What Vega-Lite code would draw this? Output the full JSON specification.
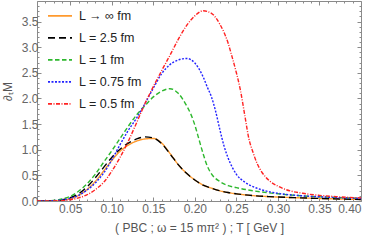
{
  "$schema": "https://vega.github.io/schema/vega-lite/v6.json",
  "width": 324,
  "height": 200,
  "autosize": {"type": "none"},
  "padding": {"left": 37, "top": 1, "right": 13, "bottom": 39},
  "config": {
    "font": "Liberation Sans",
    "view": {"stroke": "#8a8a8a", "strokeWidth": 1},
    "axis": {"domain": false, "grid": false, "tickColor": "#8a8a8a", "labelColor": "#666666", "labelFontSize": 12, "titleColor": "#555555", "titleFontSize": 12, "titleFontWeight": "normal"}
  },
  "data": {
    "values": [
      {"L": "L → ∞ fm", "T": 0.01, "M": 0},
      {"L": "L → ∞ fm", "T": 0.02, "M": 0.001},
      {"L": "L → ∞ fm", "T": 0.03, "M": 0.004},
      {"L": "L → ∞ fm", "T": 0.04, "M": 0.015},
      {"L": "L → ∞ fm", "T": 0.05, "M": 0.045},
      {"L": "L → ∞ fm", "T": 0.06, "M": 0.11},
      {"L": "L → ∞ fm", "T": 0.07, "M": 0.22},
      {"L": "L → ∞ fm", "T": 0.08, "M": 0.38},
      {"L": "L → ∞ fm", "T": 0.09, "M": 0.58},
      {"L": "L → ∞ fm", "T": 0.10, "M": 0.79},
      {"L": "L → ∞ fm", "T": 0.11, "M": 0.97},
      {"L": "L → ∞ fm", "T": 0.12, "M": 1.09},
      {"L": "L → ∞ fm", "T": 0.13, "M": 1.17},
      {"L": "L → ∞ fm", "T": 0.14, "M": 1.21},
      {"L": "L → ∞ fm", "T": 0.15, "M": 1.22},
      {"L": "L → ∞ fm", "T": 0.16, "M": 1.13},
      {"L": "L → ∞ fm", "T": 0.17, "M": 0.93},
      {"L": "L → ∞ fm", "T": 0.18, "M": 0.71},
      {"L": "L → ∞ fm", "T": 0.19, "M": 0.54},
      {"L": "L → ∞ fm", "T": 0.20, "M": 0.41},
      {"L": "L → ∞ fm", "T": 0.21, "M": 0.31},
      {"L": "L → ∞ fm", "T": 0.22, "M": 0.25},
      {"L": "L → ∞ fm", "T": 0.23, "M": 0.20},
      {"L": "L → ∞ fm", "T": 0.24, "M": 0.165},
      {"L": "L → ∞ fm", "T": 0.25, "M": 0.14},
      {"L": "L → ∞ fm", "T": 0.27, "M": 0.105},
      {"L": "L → ∞ fm", "T": 0.29, "M": 0.085},
      {"L": "L → ∞ fm", "T": 0.32, "M": 0.065},
      {"L": "L → ∞ fm", "T": 0.35, "M": 0.05},
      {"L": "L → ∞ fm", "T": 0.40, "M": 0.03},

      {"L": "L = 2.5 fm", "T": 0.01, "M": 0},
      {"L": "L = 2.5 fm", "T": 0.02, "M": 0.002},
      {"L": "L = 2.5 fm", "T": 0.03, "M": 0.008},
      {"L": "L = 2.5 fm", "T": 0.04, "M": 0.025},
      {"L": "L = 2.5 fm", "T": 0.05, "M": 0.065},
      {"L": "L = 2.5 fm", "T": 0.06, "M": 0.14},
      {"L": "L = 2.5 fm", "T": 0.07, "M": 0.27},
      {"L": "L = 2.5 fm", "T": 0.08, "M": 0.45},
      {"L": "L = 2.5 fm", "T": 0.09, "M": 0.65},
      {"L": "L = 2.5 fm", "T": 0.10, "M": 0.85},
      {"L": "L = 2.5 fm", "T": 0.11, "M": 1.01},
      {"L": "L = 2.5 fm", "T": 0.12, "M": 1.13},
      {"L": "L = 2.5 fm", "T": 0.13, "M": 1.21},
      {"L": "L = 2.5 fm", "T": 0.14, "M": 1.25},
      {"L": "L = 2.5 fm", "T": 0.15, "M": 1.23},
      {"L": "L = 2.5 fm", "T": 0.16, "M": 1.12},
      {"L": "L = 2.5 fm", "T": 0.17, "M": 0.92},
      {"L": "L = 2.5 fm", "T": 0.18, "M": 0.71},
      {"L": "L = 2.5 fm", "T": 0.19, "M": 0.54},
      {"L": "L = 2.5 fm", "T": 0.20, "M": 0.41},
      {"L": "L = 2.5 fm", "T": 0.21, "M": 0.31},
      {"L": "L = 2.5 fm", "T": 0.22, "M": 0.25},
      {"L": "L = 2.5 fm", "T": 0.23, "M": 0.20},
      {"L": "L = 2.5 fm", "T": 0.24, "M": 0.165},
      {"L": "L = 2.5 fm", "T": 0.25, "M": 0.14},
      {"L": "L = 2.5 fm", "T": 0.27, "M": 0.105},
      {"L": "L = 2.5 fm", "T": 0.29, "M": 0.085},
      {"L": "L = 2.5 fm", "T": 0.32, "M": 0.065},
      {"L": "L = 2.5 fm", "T": 0.35, "M": 0.05},
      {"L": "L = 2.5 fm", "T": 0.40, "M": 0.03},

      {"L": "L = 1 fm", "T": 0.01, "M": 0},
      {"L": "L = 1 fm", "T": 0.02, "M": 0.002},
      {"L": "L = 1 fm", "T": 0.03, "M": 0.01},
      {"L": "L = 1 fm", "T": 0.04, "M": 0.04},
      {"L": "L = 1 fm", "T": 0.05, "M": 0.09},
      {"L": "L = 1 fm", "T": 0.06, "M": 0.19},
      {"L": "L = 1 fm", "T": 0.07, "M": 0.33},
      {"L": "L = 1 fm", "T": 0.08, "M": 0.52},
      {"L": "L = 1 fm", "T": 0.09, "M": 0.75},
      {"L": "L = 1 fm", "T": 0.10, "M": 0.98},
      {"L": "L = 1 fm", "T": 0.11, "M": 1.22},
      {"L": "L = 1 fm", "T": 0.12, "M": 1.46},
      {"L": "L = 1 fm", "T": 0.13, "M": 1.68},
      {"L": "L = 1 fm", "T": 0.14, "M": 1.86},
      {"L": "L = 1 fm", "T": 0.15, "M": 2.03},
      {"L": "L = 1 fm", "T": 0.16, "M": 2.14},
      {"L": "L = 1 fm", "T": 0.17, "M": 2.19},
      {"L": "L = 1 fm", "T": 0.18, "M": 2.10},
      {"L": "L = 1 fm", "T": 0.19, "M": 1.86},
      {"L": "L = 1 fm", "T": 0.195, "M": 1.70},
      {"L": "L = 1 fm", "T": 0.20, "M": 1.48},
      {"L": "L = 1 fm", "T": 0.205, "M": 1.20},
      {"L": "L = 1 fm", "T": 0.21, "M": 0.92},
      {"L": "L = 1 fm", "T": 0.215, "M": 0.68},
      {"L": "L = 1 fm", "T": 0.22, "M": 0.53},
      {"L": "L = 1 fm", "T": 0.23, "M": 0.38},
      {"L": "L = 1 fm", "T": 0.24, "M": 0.30},
      {"L": "L = 1 fm", "T": 0.25, "M": 0.26},
      {"L": "L = 1 fm", "T": 0.27, "M": 0.20},
      {"L": "L = 1 fm", "T": 0.30, "M": 0.14},
      {"L": "L = 1 fm", "T": 0.33, "M": 0.10},
      {"L": "L = 1 fm", "T": 0.36, "M": 0.075},
      {"L": "L = 1 fm", "T": 0.40, "M": 0.05},

      {"L": "L = 0.75 fm", "T": 0.01, "M": 0},
      {"L": "L = 0.75 fm", "T": 0.02, "M": 0.001},
      {"L": "L = 0.75 fm", "T": 0.03, "M": 0.005},
      {"L": "L = 0.75 fm", "T": 0.04, "M": 0.02},
      {"L": "L = 0.75 fm", "T": 0.05, "M": 0.05},
      {"L": "L = 0.75 fm", "T": 0.06, "M": 0.11},
      {"L": "L = 0.75 fm", "T": 0.07, "M": 0.21},
      {"L": "L = 0.75 fm", "T": 0.08, "M": 0.35},
      {"L": "L = 0.75 fm", "T": 0.09, "M": 0.54},
      {"L": "L = 0.75 fm", "T": 0.10, "M": 0.80},
      {"L": "L = 0.75 fm", "T": 0.11, "M": 1.10},
      {"L": "L = 0.75 fm", "T": 0.12, "M": 1.38},
      {"L": "L = 0.75 fm", "T": 0.13, "M": 1.62},
      {"L": "L = 0.75 fm", "T": 0.14, "M": 1.90},
      {"L": "L = 0.75 fm", "T": 0.15, "M": 2.20},
      {"L": "L = 0.75 fm", "T": 0.16, "M": 2.48},
      {"L": "L = 0.75 fm", "T": 0.17, "M": 2.66},
      {"L": "L = 0.75 fm", "T": 0.18, "M": 2.75},
      {"L": "L = 0.75 fm", "T": 0.19, "M": 2.78},
      {"L": "L = 0.75 fm", "T": 0.20, "M": 2.69},
      {"L": "L = 0.75 fm", "T": 0.21, "M": 2.42},
      {"L": "L = 0.75 fm", "T": 0.215, "M": 2.22},
      {"L": "L = 0.75 fm", "T": 0.22, "M": 2.03},
      {"L": "L = 0.75 fm", "T": 0.225, "M": 1.75},
      {"L": "L = 0.75 fm", "T": 0.23, "M": 1.40},
      {"L": "L = 0.75 fm", "T": 0.235, "M": 1.08},
      {"L": "L = 0.75 fm", "T": 0.24, "M": 0.84},
      {"L": "L = 0.75 fm", "T": 0.245, "M": 0.66},
      {"L": "L = 0.75 fm", "T": 0.25, "M": 0.52},
      {"L": "L = 0.75 fm", "T": 0.26, "M": 0.37},
      {"L": "L = 0.75 fm", "T": 0.27, "M": 0.28},
      {"L": "L = 0.75 fm", "T": 0.28, "M": 0.22},
      {"L": "L = 0.75 fm", "T": 0.30, "M": 0.15},
      {"L": "L = 0.75 fm", "T": 0.33, "M": 0.10},
      {"L": "L = 0.75 fm", "T": 0.36, "M": 0.075},
      {"L": "L = 0.75 fm", "T": 0.40, "M": 0.05},

      {"L": "L = 0.5 fm", "T": 0.01, "M": 0},
      {"L": "L = 0.5 fm", "T": 0.02, "M": 0.0},
      {"L": "L = 0.5 fm", "T": 0.03, "M": 0.002},
      {"L": "L = 0.5 fm", "T": 0.04, "M": 0.008},
      {"L": "L = 0.5 fm", "T": 0.05, "M": 0.025},
      {"L": "L = 0.5 fm", "T": 0.06, "M": 0.06},
      {"L": "L = 0.5 fm", "T": 0.07, "M": 0.12},
      {"L": "L = 0.5 fm", "T": 0.08, "M": 0.22},
      {"L": "L = 0.5 fm", "T": 0.09, "M": 0.36},
      {"L": "L = 0.5 fm", "T": 0.10, "M": 0.58},
      {"L": "L = 0.5 fm", "T": 0.11, "M": 0.85},
      {"L": "L = 0.5 fm", "T": 0.12, "M": 1.17},
      {"L": "L = 0.5 fm", "T": 0.13, "M": 1.53},
      {"L": "L = 0.5 fm", "T": 0.14, "M": 1.90},
      {"L": "L = 0.5 fm", "T": 0.15, "M": 2.23},
      {"L": "L = 0.5 fm", "T": 0.16, "M": 2.54},
      {"L": "L = 0.5 fm", "T": 0.17, "M": 2.84},
      {"L": "L = 0.5 fm", "T": 0.18, "M": 3.15},
      {"L": "L = 0.5 fm", "T": 0.19, "M": 3.42},
      {"L": "L = 0.5 fm", "T": 0.20, "M": 3.61},
      {"L": "L = 0.5 fm", "T": 0.21, "M": 3.71},
      {"L": "L = 0.5 fm", "T": 0.22, "M": 3.66},
      {"L": "L = 0.5 fm", "T": 0.23, "M": 3.45},
      {"L": "L = 0.5 fm", "T": 0.24, "M": 3.08},
      {"L": "L = 0.5 fm", "T": 0.245, "M": 2.80},
      {"L": "L = 0.5 fm", "T": 0.25, "M": 2.50},
      {"L": "L = 0.5 fm", "T": 0.255, "M": 2.15},
      {"L": "L = 0.5 fm", "T": 0.26, "M": 1.68},
      {"L": "L = 0.5 fm", "T": 0.265, "M": 1.22},
      {"L": "L = 0.5 fm", "T": 0.27, "M": 0.95},
      {"L": "L = 0.5 fm", "T": 0.275, "M": 0.73},
      {"L": "L = 0.5 fm", "T": 0.28, "M": 0.58},
      {"L": "L = 0.5 fm", "T": 0.285, "M": 0.47},
      {"L": "L = 0.5 fm", "T": 0.29, "M": 0.39},
      {"L": "L = 0.5 fm", "T": 0.30, "M": 0.29},
      {"L": "L = 0.5 fm", "T": 0.31, "M": 0.22},
      {"L": "L = 0.5 fm", "T": 0.33, "M": 0.15},
      {"L": "L = 0.5 fm", "T": 0.35, "M": 0.11},
      {"L": "L = 0.5 fm", "T": 0.37, "M": 0.085},
      {"L": "L = 0.5 fm", "T": 0.40, "M": 0.06}
    ]
  },
  "layer": [
    {
      "mark": {"type": "line", "interpolate": "monotone", "strokeWidth": 1.4, "clip": true},
      "encoding": {
        "x": {"field": "T", "type": "quantitative", "scale": {"domain": [0.01, 0.4], "nice": false, "zero": false},
          "axis": {"orient": "bottom", "values": [0.05, 0.1, 0.15, 0.2, 0.25, 0.3, 0.35, 0.4], "format": ".2f", "tickSize": -4, "labelPadding": 6, "title": "( PBC ; ω = 15 mπ² ) ; T [ GeV ]", "titlePadding": 8}},
        "y": {"field": "M", "type": "quantitative", "scale": {"domain": [0, 3.9], "nice": false},
          "axis": {"orient": "left", "values": [0, 0.5, 1, 1.5, 2, 2.5, 3, 3.5], "format": ".1f", "tickSize": -4, "labelPadding": 3, "title": "∂ₜM", "titleX": -23, "titleY": 90}},
        "color": {"field": "L", "type": "nominal", "title": null,
          "scale": {"domain": ["L → ∞ fm", "L = 2.5 fm", "L = 1 fm", "L = 0.75 fm", "L = 0.5 fm"], "range": ["#ff9a2e", "#000000", "#2eb82e", "#2222ff", "#ff2222"]},
          "legend": {"orient": "none", "legendX": 10, "legendY": 4, "symbolType": "stroke", "symbolSize": 576, "symbolStrokeWidth": 1.6, "labelFontSize": 12.5, "labelColor": "#222222", "labelOffset": 6, "clipHeight": 21.7, "rowPadding": 0, "padding": 0}},
        "strokeDash": {"field": "L", "type": "nominal", "title": null,
          "scale": {"domain": ["L → ∞ fm", "L = 2.5 fm", "L = 1 fm", "L = 0.75 fm", "L = 0.5 fm"], "range": [[1, 0], [7, 4], [4.5, 2.5], [2, 1.5], [4, 1.5, 1, 1.5]]}}
      }
    },
    {
      "mark": {"type": "line", "opacity": 0},
      "encoding": {
        "x": {"field": "T", "type": "quantitative", "axis": {"orient": "bottom", "values": [0.01, 0.02, 0.03, 0.04, 0.06, 0.07, 0.08, 0.09, 0.11, 0.12, 0.13, 0.14, 0.16, 0.17, 0.18, 0.19, 0.21, 0.22, 0.23, 0.24, 0.26, 0.27, 0.28, 0.29, 0.31, 0.32, 0.33, 0.34, 0.36, 0.37, 0.38, 0.39], "tickSize": -2, "labels": false, "title": null}},
        "y": {"field": "M", "type": "quantitative", "axis": {"orient": "left", "values": [0.1, 0.2, 0.3, 0.4, 0.6, 0.7, 0.8, 0.9, 1.1, 1.2, 1.3, 1.4, 1.6, 1.7, 1.8, 1.9, 2.1, 2.2, 2.3, 2.4, 2.6, 2.7, 2.8, 2.9, 3.1, 3.2, 3.3, 3.4, 3.6, 3.7, 3.8], "tickSize": -2, "labels": false, "title": null}},
        "detail": {"field": "L"}
      }
    },
    {
      "mark": {"type": "line", "opacity": 0},
      "encoding": {
        "x": {"field": "T", "type": "quantitative", "axis": {"orient": "top", "values": [0.05, 0.1, 0.15, 0.2, 0.25, 0.3, 0.35, 0.4], "tickSize": -4, "labels": false, "title": null}},
        "y": {"field": "M", "type": "quantitative", "axis": {"orient": "right", "values": [0, 0.5, 1, 1.5, 2, 2.5, 3, 3.5], "tickSize": -4, "labels": false, "title": null}},
        "detail": {"field": "L"}
      }
    },
    {
      "mark": {"type": "line", "opacity": 0},
      "encoding": {
        "x": {"field": "T", "type": "quantitative", "axis": {"orient": "top", "values": [0.01, 0.02, 0.03, 0.04, 0.06, 0.07, 0.08, 0.09, 0.11, 0.12, 0.13, 0.14, 0.16, 0.17, 0.18, 0.19, 0.21, 0.22, 0.23, 0.24, 0.26, 0.27, 0.28, 0.29, 0.31, 0.32, 0.33, 0.34, 0.36, 0.37, 0.38, 0.39], "tickSize": -2, "labels": false, "title": null}},
        "y": {"field": "M", "type": "quantitative", "axis": {"orient": "right", "values": [0.1, 0.2, 0.3, 0.4, 0.6, 0.7, 0.8, 0.9, 1.1, 1.2, 1.3, 1.4, 1.6, 1.7, 1.8, 1.9, 2.1, 2.2, 2.3, 2.4, 2.6, 2.7, 2.8, 2.9, 3.1, 3.2, 3.3, 3.4, 3.6, 3.7, 3.8], "tickSize": -2, "labels": false, "title": null}},
        "detail": {"field": "L"}
      }
    }
  ],
  "resolve": {"axis": {"x": "independent", "y": "independent"}}
}
